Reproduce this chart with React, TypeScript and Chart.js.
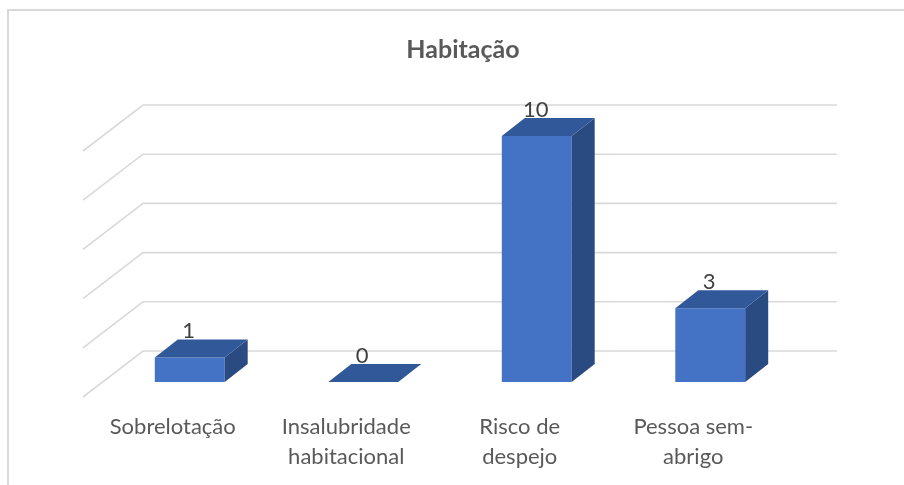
import React, { useEffect, useRef } from "react";
import { Chart, registerables } from "chart.js";

Chart.register(...registerables);

const title = "Habitação";
const categories: string[][] = [
  ["Sobrelotação"],
  ["Insalubridade", "habitacional"],
  ["Risco de", "despejo"],
  ["Pessoa sem-", "abrigo"],
];
const values: number[] = [1, 0, 10, 3];
const yTicks: number[] = [0, 2, 4, 6, 8, 10];

const FRONT = "#4472C4";
const TOP = "#31599A";
const SIDE = "#2A4A82";
const GRID = "#D9D9D9";
const FONT = "Lato, 'Open Sans', sans-serif";

// depth geometry (pixels)
const BAR_DX = 23;
const BAR_DY = -18;
const WALL_DX = 40;
const WALL_DY = -31;
const FLOOR_DX = -20;
const FLOOR_DY = 15;

const threeD = {
  id: "threeD",
  beforeDatasetsDraw(chart: any) {
    const { ctx, chartArea: a } = chart;
    const ys = chart.scales.y;
    ctx.save();
    // outer frame
    ctx.strokeStyle = GRID;
    ctx.lineWidth = 2;
    ctx.beginPath();
    ctx.moveTo(8, chart.height);
    ctx.lineTo(8, 10);
    ctx.lineTo(chart.width, 10);
    ctx.stroke();
    // back wall + side wall grid
    ctx.lineWidth = 1.6;
    ctx.strokeStyle = GRID;
    for (const t of yTicks) {
      const py = ys.getPixelForValue(t);
      ctx.beginPath();
      ctx.moveTo(a.left + FLOOR_DX, py + FLOOR_DY);
      ctx.lineTo(a.left + WALL_DX, py + WALL_DY);
      ctx.lineTo(a.right + WALL_DX, py + WALL_DY);
      ctx.stroke();
    }
    ctx.restore();
  },
  afterDatasetsDraw(chart: any) {
    const { ctx } = chart;
    const meta = chart.getDatasetMeta(0);
    ctx.save();
    meta.data.forEach((el: any, i: number) => {
      const w = el.width;
      const l = el.x - w / 2;
      const r = el.x + w / 2;
      const top = el.y;
      const base = el.base;
      // side face
      ctx.fillStyle = SIDE;
      ctx.beginPath();
      ctx.moveTo(r, top);
      ctx.lineTo(r + BAR_DX, top + BAR_DY);
      ctx.lineTo(r + BAR_DX, base + BAR_DY);
      ctx.lineTo(r, base);
      ctx.closePath();
      ctx.fill();
      // top face
      ctx.fillStyle = TOP;
      ctx.beginPath();
      ctx.moveTo(l, top);
      ctx.lineTo(l + BAR_DX, top + BAR_DY);
      ctx.lineTo(r + BAR_DX, top + BAR_DY);
      ctx.lineTo(r, top);
      ctx.closePath();
      ctx.fill();
      // value label
      ctx.fillStyle = "#404040";
      ctx.font = `22px ${FONT}`;
      ctx.textAlign = "center";
      ctx.textBaseline = "middle";
      ctx.fillText(String(values[i]), el.x - 1, top - 26);
    });
    ctx.restore();
  },
  afterDraw(chart: any) {
    const { ctx, chartArea: a } = chart;
    const xs = chart.scales.x;
    ctx.save();
    ctx.fillStyle = "#595959";
    ctx.textAlign = "center";
    ctx.textBaseline = "middle";
    ctx.font = `22px ${FONT}`;
    categories.forEach((lines, i) => {
      const cx = xs.getPixelForValue(i) - 17;
      lines.forEach((s, j) => {
        ctx.fillText(s, cx, a.bottom + 45 + j * 30);
      });
    });
    ctx.font = `bold 25px ${FONT}`;
    ctx.fillText(title, 463, 50);
    ctx.restore();
  },
};

export default function App() {
  const ref = useRef<HTMLCanvasElement | null>(null);
  useEffect(() => {
    if (!ref.current) return;
    const chart = new Chart(ref.current, {
      type: "bar",
      data: {
        labels: categories,
        datasets: [
          {
            data: values,
            backgroundColor: FRONT,
            borderWidth: 0,
            barPercentage: 0.403,
            categoryPercentage: 1,
          },
        ],
      },
      options: {
        animation: false,
        responsive: false,
        devicePixelRatio: 1,
        layout: { padding: { left: 103, right: 107, top: 136, bottom: 103 } },
        plugins: { legend: { display: false }, tooltip: { enabled: false }, title: { display: false } },
        scales: {
          x: { display: false },
          y: { display: false, min: 0, max: 10 },
        },
      },
      plugins: [threeD],
    });
    return () => chart.destroy();
  }, []);
  return (
    <div style={{ position: "fixed", left: 0, top: 0, width: 904, height: 485, background: "#fff" }}>
      <canvas ref={ref} width={904} height={485} />
    </div>
  );
}
